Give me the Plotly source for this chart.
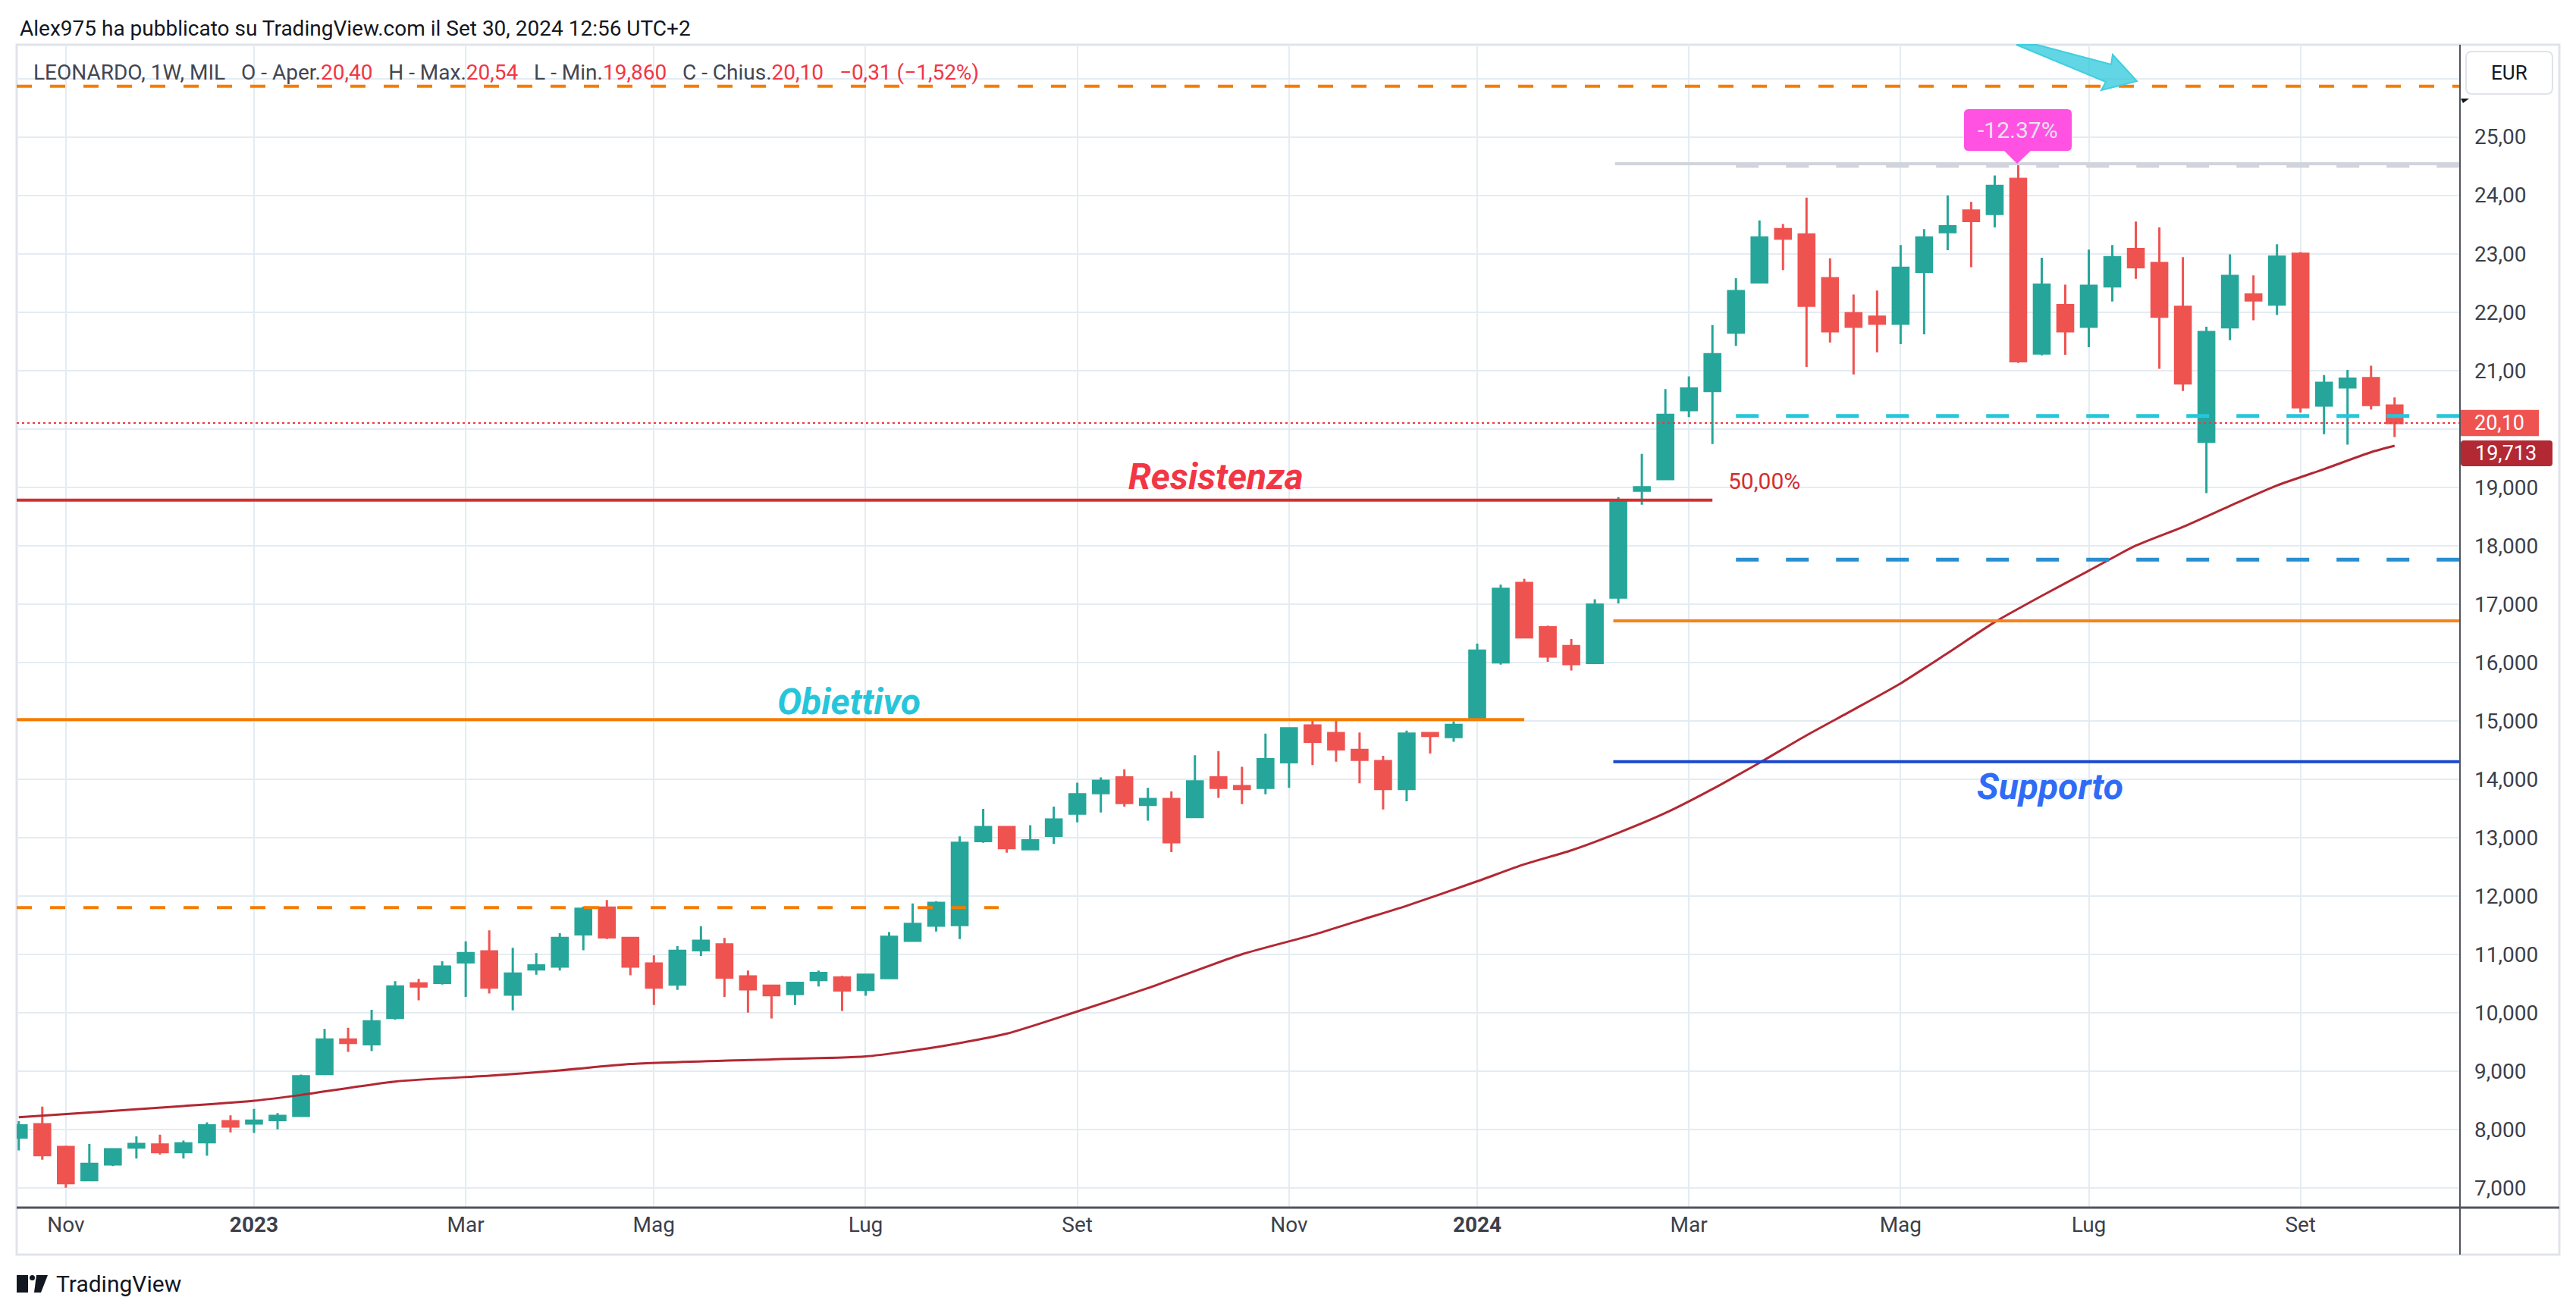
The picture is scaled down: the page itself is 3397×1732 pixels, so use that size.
import plotly.graph_objects as go
from datetime import datetime, timedelta

# ---------------- data ----------------
start = datetime(2022, 10, 24)  # first weekly bar (Monday)

opens = [7.86, 8.09, 7.70, 7.13, 7.40, 7.69, 7.74, 7.61, 7.78, 8.14,
         8.10, 8.16, 8.23, 8.95, 9.54, 9.46, 9.91, 10.50, 10.51, 10.86,
         11.05, 10.31, 10.74, 10.79, 11.34, 11.80, 11.28, 10.84, 10.48, 11.07,
         11.17, 10.62, 10.46, 10.32, 10.56, 10.60, 10.39, 10.59, 11.23, 11.49,
         11.50, 12.94, 13.18, 12.80, 13.03, 13.41, 13.76, 14.03, 13.56, 13.66,
         13.35, 14.03, 13.88, 13.85, 14.29, 14.92, 14.79, 14.50, 14.31, 13.83,
         14.79, 14.72, 15.05, 16.00, 17.36, 16.60, 16.28, 15.99, 17.11, 18.94,
         19.14, 20.32, 20.65, 21.65, 22.51, 23.42, 23.33, 22.58, 21.98, 21.92,
         21.80, 22.69, 23.37, 23.74, 23.68, 24.28, 21.29, 22.12, 21.75, 22.44,
         23.08, 22.84, 22.09, 19.78, 21.74, 22.30, 22.13, 23.00, 20.40, 20.71,
         20.87, 20.40]
highs = [8.14, 8.39, 7.72, 7.75, 7.68, 7.88, 7.91, 7.81, 8.12, 8.24,
         8.35, 8.28, 8.94, 9.72, 9.74, 10.05, 10.54, 10.58, 10.88, 11.22,
         11.41, 11.11, 11.02, 11.36, 11.82, 11.93, 11.28, 10.98, 11.14, 11.48,
         11.28, 10.72, 10.47, 10.53, 10.72, 10.63, 10.65, 11.38, 11.87, 11.91,
         13.02, 13.49, 13.18, 13.21, 13.53, 13.94, 14.03, 14.17, 13.85, 13.79,
         14.41, 14.48, 14.21, 14.78, 14.88, 15.01, 15.00, 14.80, 14.40, 14.83,
         14.80, 14.99, 16.32, 17.33, 17.43, 16.63, 16.40, 17.08, 18.83, 19.57,
         20.68, 20.90, 21.78, 22.58, 23.57, 23.51, 23.96, 22.92, 22.30, 22.37,
         23.15, 23.42, 24.00, 23.89, 24.34, 24.55, 22.93, 22.47, 23.07, 23.15,
         23.55, 23.45, 22.94, 21.75, 22.99, 22.63, 23.16, 23.03, 20.92, 21.01,
         21.08, 20.54]
lows = [7.64, 7.48, 7.00, 7.11, 7.37, 7.50, 7.57, 7.50, 7.55, 7.95,
        7.94, 8.00, 8.22, 8.95, 9.33, 9.34, 9.88, 10.21, 10.48, 10.27,
        10.33, 10.04, 10.65, 10.72, 11.07, 11.26, 10.64, 10.13, 10.39, 10.97,
        10.27, 10.00, 9.90, 10.13, 10.45, 10.03, 10.29, 10.59, 11.23, 11.39,
        11.26, 12.91, 12.74, 12.78, 12.89, 13.26, 13.43, 13.53, 13.29, 12.75,
        13.34, 13.68, 13.57, 13.74, 13.85, 14.24, 14.30, 13.93, 13.48, 13.62,
        14.44, 14.64, 15.04, 15.96, 16.43, 16.01, 15.86, 15.99, 17.01, 18.70,
        19.14, 20.20, 19.74, 21.42, 22.49, 22.72, 21.06, 21.48, 20.93, 21.31,
        21.45, 21.62, 23.06, 22.77, 23.45, 21.13, 21.26, 21.27, 21.40, 22.18,
        22.57, 21.03, 20.65, 18.90, 21.52, 21.86, 21.95, 20.28, 19.91, 19.73,
        20.33, 19.86]
closes = [8.07, 7.56, 7.08, 7.41, 7.66, 7.75, 7.61, 7.76, 8.07, 8.05,
          8.15, 8.23, 8.91, 9.54, 9.48, 9.85, 10.45, 10.45, 10.79, 11.02,
          10.43, 10.67, 10.81, 11.28, 11.78, 11.29, 10.79, 10.43, 11.06, 11.23,
          10.60, 10.40, 10.30, 10.51, 10.68, 10.38, 10.65, 11.30, 11.52, 11.88,
          12.91, 13.18, 12.82, 12.95, 13.31, 13.74, 13.97, 13.59, 13.66, 12.92,
          13.96, 13.85, 13.83, 14.34, 14.87, 14.64, 14.51, 14.33, 13.83, 14.78,
          14.74, 14.93, 16.20, 17.26, 16.43, 16.10, 15.97, 16.99, 18.75, 19.00,
          20.24, 20.69, 21.28, 22.36, 23.28, 23.26, 22.11, 21.67, 21.75, 21.80,
          22.76, 23.28, 23.47, 23.56, 24.16, 21.16, 22.47, 21.67, 22.45, 22.94,
          22.77, 21.92, 20.78, 21.66, 22.62, 22.20, 22.95, 20.37, 20.79, 20.86,
          20.41, 20.10]

# 50-week moving average (read at some bars: bar index -> value)
ma_bar = [0, 3, 7, 10, 12, 16, 20, 23, 26, 31, 36, 39, 42, 45, 48, 52, 55, 57,
          59, 62, 64, 66, 68, 70, 72, 74, 76, 78, 80, 82, 84, 86, 88, 90, 92,
          94, 96, 98, 100, 101]
ma_val = [8.21, 8.29, 8.40, 8.49, 8.59, 8.82, 8.92, 9.01, 9.12, 9.19, 9.25, 9.41,
          9.64, 10.02, 10.42, 11.00, 11.33, 11.58, 11.83, 12.25, 12.54, 12.78,
          13.08, 13.42, 13.83, 14.28, 14.75, 15.19, 15.64, 16.16, 16.69, 17.14,
          17.57, 18.00, 18.32, 18.68, 19.03, 19.31, 19.60, 19.71]

# x tick labels
tick_dates = ["2022-11-07", "2023-01-02", "2023-03-06", "2023-05-01", "2023-07-03",
              "2023-09-04", "2023-11-06", "2024-01-01", "2024-03-04", "2024-05-06",
              "2024-07-01", "2024-09-02"]
tick_text = ["Nov", "<b>2023</b>", "Mar", "Mag", "Lug", "Set", "Nov", "<b>2024</b>",
             "Mar", "Mag", "Lug", "Set"]
# y tick labels (20 is hidden behind the last-price tag, 26 behind the EUR box)
y_ticks = list(range(7, 27))
y_text = ["" if v in (20, 26) else (f"{v},00" if v >= 21 else f"{v},000") for v in y_ticks]

# drawn levels
lvl_top_dash = 25.87
lvl_gray = 24.54
lvl_gray_dash = 24.50
lvl_cyan_dash = 20.22
lvl_last = 20.10
lvl_res = 18.78
lvl_blue_dash = 17.76
lvl_orange = 16.71
lvl_obj = 15.02
lvl_sup = 14.30
lvl_low_dash = 11.80
ma_last = 19.713

header_vals = ["20,40", "20,54", "19,860", "20,10", "−0,31 (−1,52%)"]

# ---------------- helpers ----------------
W, H = 3397, 1732
PL, PR, PT, PB = 22, 3244, 59, 1593


def wk(i):
    return start + timedelta(days=7 * i)


def px(x):
    return (x - PL) / (PR - PL)


def py(y):
    return (PB - y) / (PB - PT)


dates = [wk(i) for i in range(len(opens))]
x_lo = datetime(2022, 10, 23, 9)
x_hi = datetime(2024, 10, 19, 11)

GREEN = "#26a69a"
RED = "#ef5350"
ORANGE = "#f57c00"

fig = go.Figure()
fig.add_trace(go.Candlestick(
    x=dates, open=opens, high=highs, low=lows, close=closes,
    increasing=dict(line=dict(color=GREEN, width=3), fillcolor=GREEN),
    decreasing=dict(line=dict(color=RED, width=3), fillcolor=RED),
    whiskerwidth=0, showlegend=False, hoverinfo="skip"))

fig.add_trace(go.Scatter(
    x=[wk(i) for i in ma_bar], y=ma_val, mode="lines",
    line=dict(color="#b22833", width=3, shape="spline", smoothing=0.6),
    showlegend=False, hoverinfo="skip"))

shapes = []


def hline(x0, x1, y, color, width, dash="solid", layer="above"):
    shapes.append(dict(type="line", xref="x", yref="y", x0=x0, x1=x1, y0=y, y1=y,
                       line=dict(color=color, width=width, dash=dash), layer=layer))


hline(x_lo, x_hi, lvl_top_dash, ORANGE, 4, "20px,24px")
hline(wk(68) - timedelta(days=1), x_hi, lvl_gray, "#d1d4dc", 4)
hline(wk(73), x_hi, lvl_gray_dash, "#d1d4dc", 4, "30px,36px")
hline(wk(73), x_hi, lvl_cyan_dash, "#26c6da", 5, "30px,36px")
hline(x_lo, x_hi, lvl_last, "#f23645", 2, "3px,4px")
hline(x_lo, wk(72), lvl_res, "#d32f2f", 4)
hline(wk(73), x_hi, lvl_blue_dash, "#2a8fd0", 5, "30px,36px")
hline(wk(68) - timedelta(days=1.5), x_hi, lvl_orange, "#f7821b", 4)
hline(x_lo, wk(64), lvl_obj, ORANGE, 4)
hline(wk(68) - timedelta(days=1.5), x_hi, lvl_sup, "#1848cc", 4)
hline(x_lo, wk(41) + timedelta(days=4.6), lvl_low_dash, ORANGE, 4, "20px,24px")

# cyan arrow (top)
arrow_pts = [(2659, 59), (2777, 108), (2771, 119), (2818, 107), (2786, 72), (2784, 85), (2686, 59)]
path = "M " + " L ".join(f"{px(x):.5f},{py(y):.5f}" for x, y in arrow_pts) + " Z"
shapes.append(dict(type="path", xref="paper", yref="paper", path=path,
                   fillcolor="rgba(38,198,218,0.72)", line=dict(color="#3fcfe0", width=2)))


def rrect(x0, y0, x1, y1, r):
    return (f"M {px(x0 + r)},{py(y0)} L {px(x1 - r)},{py(y0)} Q {px(x1)},{py(y0)} {px(x1)},{py(y0 + r)} "
            f"L {px(x1)},{py(y1 - r)} Q {px(x1)},{py(y1)} {px(x1 - r)},{py(y1)} "
            f"L {px(x0 + r)},{py(y1)} Q {px(x0)},{py(y1)} {px(x0)},{py(y1 - r)} "
            f"L {px(x0)},{py(y0 + r)} Q {px(x0)},{py(y0)} {px(x0 + r)},{py(y0)} Z")


# pink callout
PINK = "#ff52e3"
shapes.append(dict(type="path", xref="paper", yref="paper", path=rrect(2590, 144, 2732, 199, 6),
                   fillcolor=PINK, line=dict(width=0)))
shapes.append(dict(type="path", xref="paper", yref="paper",
                   path=f"M {px(2642)},{py(198)} L {px(2679)},{py(198)} L {px(2660)},{py(216)} Z",
                   fillcolor=PINK, line=dict(width=0)))

# frame and axis lines
shapes.append(dict(type="rect", xref="paper", yref="paper", x0=px(22), x1=px(3375), y0=py(1655), y1=py(59),
                   line=dict(color="#e0e3eb", width=3), layer="below"))
shapes.append(dict(type="line", xref="paper", yref="paper", x0=px(22), x1=px(3375), y0=py(1593), y1=py(1593),
                   line=dict(color="#50535e", width=3)))
shapes.append(dict(type="line", xref="paper", yref="paper", x0=px(3244), x1=px(3244), y0=py(59), y1=py(1655),
                   line=dict(color="#50535e", width=2)))

# price label boxes on axis
shapes.append(dict(type="rect", xref="paper", yref="y", x0=px(3245), x1=px(3348),
                   y0=lvl_last - 0.225, y1=lvl_last + 0.225, fillcolor=RED, line=dict(width=0)))
shapes.append(dict(type="path", xref="paper", yref="paper", path=rrect(3245, 581, 3366, 615, 4),
                   fillcolor="#b22833", line=dict(width=0)))
# EUR box
shapes.append(dict(type="path", xref="paper", yref="paper", path=rrect(3252, 68, 3366, 124, 8),
                   fillcolor="white", line=dict(color="#e0e3eb", width=2)))
# small scale marker under the EUR box
shapes.append(dict(type="path", xref="paper", yref="paper",
                   path=f"M {px(3245)},{py(130)} L {px(3256)},{py(130)} L {px(3248)},{py(136)} Z",
                   fillcolor="#131722", line=dict(width=0)))

# TradingView logo
shapes.append(dict(type="rect", xref="paper", yref="paper", x0=px(22), x1=px(37), y0=py(1705), y1=py(1682),
                   fillcolor="#131722", line=dict(width=0)))
shapes.append(dict(type="circle", xref="paper", yref="paper", x0=px(39), x1=px(46), y0=py(1689), y1=py(1682),
                   fillcolor="#131722", line=dict(width=0)))
shapes.append(dict(type="path", xref="paper", yref="paper",
                   path=f"M {px(48)},{py(1682)} L {px(63)},{py(1682)} L {px(54)},{py(1705)} L {px(45)},{py(1705)} Z",
                   fillcolor="#131722", line=dict(width=0)))

FONT = "Roboto, 'Liberation Sans', sans-serif"
annotations = []


def note(text, x, y, size, color, xref="x", yref="y", xanchor="center", yanchor="middle", **kw):
    annotations.append(dict(text=text, x=x, y=y, xref=xref, yref=yref, xanchor=xanchor, yanchor=yanchor,
                            showarrow=False, font=dict(family=FONT, size=size, color=color), **kw))


note("Alex975 ha pubblicato su TradingView.com il Set 30, 2024 12:56 UTC+2", px(24), py(38), 28, "#131722",
     xref="paper", yref="paper", xanchor="left")
R_ = "#f23645"
sp = "\u00a0\u00a0\u00a0"
legend = (f"LEONARDO, 1W, MIL{sp}O - Aper.<span style='color:{R_}'>{header_vals[0]}</span>{sp}"
          f"H - Max.<span style='color:{R_}'>{header_vals[1]}</span>{sp}"
          f"L - Min.<span style='color:{R_}'>{header_vals[2]}</span>{sp}"
          f"C - Chius.<span style='color:{R_}'>{header_vals[3]}</span>{sp}"
          f"<span style='color:{R_}'>{header_vals[4]}</span>")
note(legend, px(42), py(95), 28, "#434651", xref="paper", yref="paper", xanchor="left")

note("<b><i>Resistenza</i></b>", wk(50.88), 19.19, 48, "#f23645")
note("<b><i>Obiettivo</i></b>", wk(35.3), 15.33, 48, "#26c6da")
note("<b><i>Supporto</i></b>", wk(86.37), 13.87, 48, "#2f6cf6")
note("50,00%", wk(72.6), 19.11, 30, "#d32f2f", xanchor="left")
note("-12.37%", px(2661), py(171), 30, "#e9e2f0", xref="paper", yref="paper")
note("20,10", px(3296), lvl_last, 27, "white", xref="paper")
note(f"{ma_last:.3f}".replace(".", ","), px(3305), py(598), 27, "white", xref="paper", yref="paper")
note("EUR", px(3309), py(96), 26, "#131722", xref="paper", yref="paper")
note("TradingView", px(72), py(1693), 30, "#131722", xref="paper", yref="paper", xanchor="left")

fig.update_layout(
    width=W, height=H,
    margin=dict(l=PL, r=W - PR, t=PT, b=H - PB),
    paper_bgcolor="white", plot_bgcolor="white",
    boxgap=0, boxgroupgap=0.336,
    shapes=shapes, annotations=annotations,
    font=dict(family=FONT),
    xaxis=dict(type="date", range=[x_lo, x_hi], tickvals=tick_dates, ticktext=tick_text,
               showgrid=True, gridcolor="#e4ecf2", gridwidth=2, zeroline=False, showline=False,
               ticks="", tickfont=dict(size=28, color="#3c3f4a", family=FONT),
               ticklabelstandoff=3, rangeslider=dict(visible=False), fixedrange=True),
    yaxis=dict(range=[6.66, 26.58], side="right", tickvals=y_ticks, ticktext=y_text,
               showgrid=True, gridcolor="#e4ecf2", gridwidth=2, zeroline=False, showline=False,
               ticks="", tickfont=dict(size=28, color="#3c3f4a", family=FONT),
               ticklabelstandoff=18, fixedrange=True),
)

fig.write_html("out.html", config={"displayModeBar": False, "staticPlot": True},
               post_script="document.body.style.margin='0px';")
